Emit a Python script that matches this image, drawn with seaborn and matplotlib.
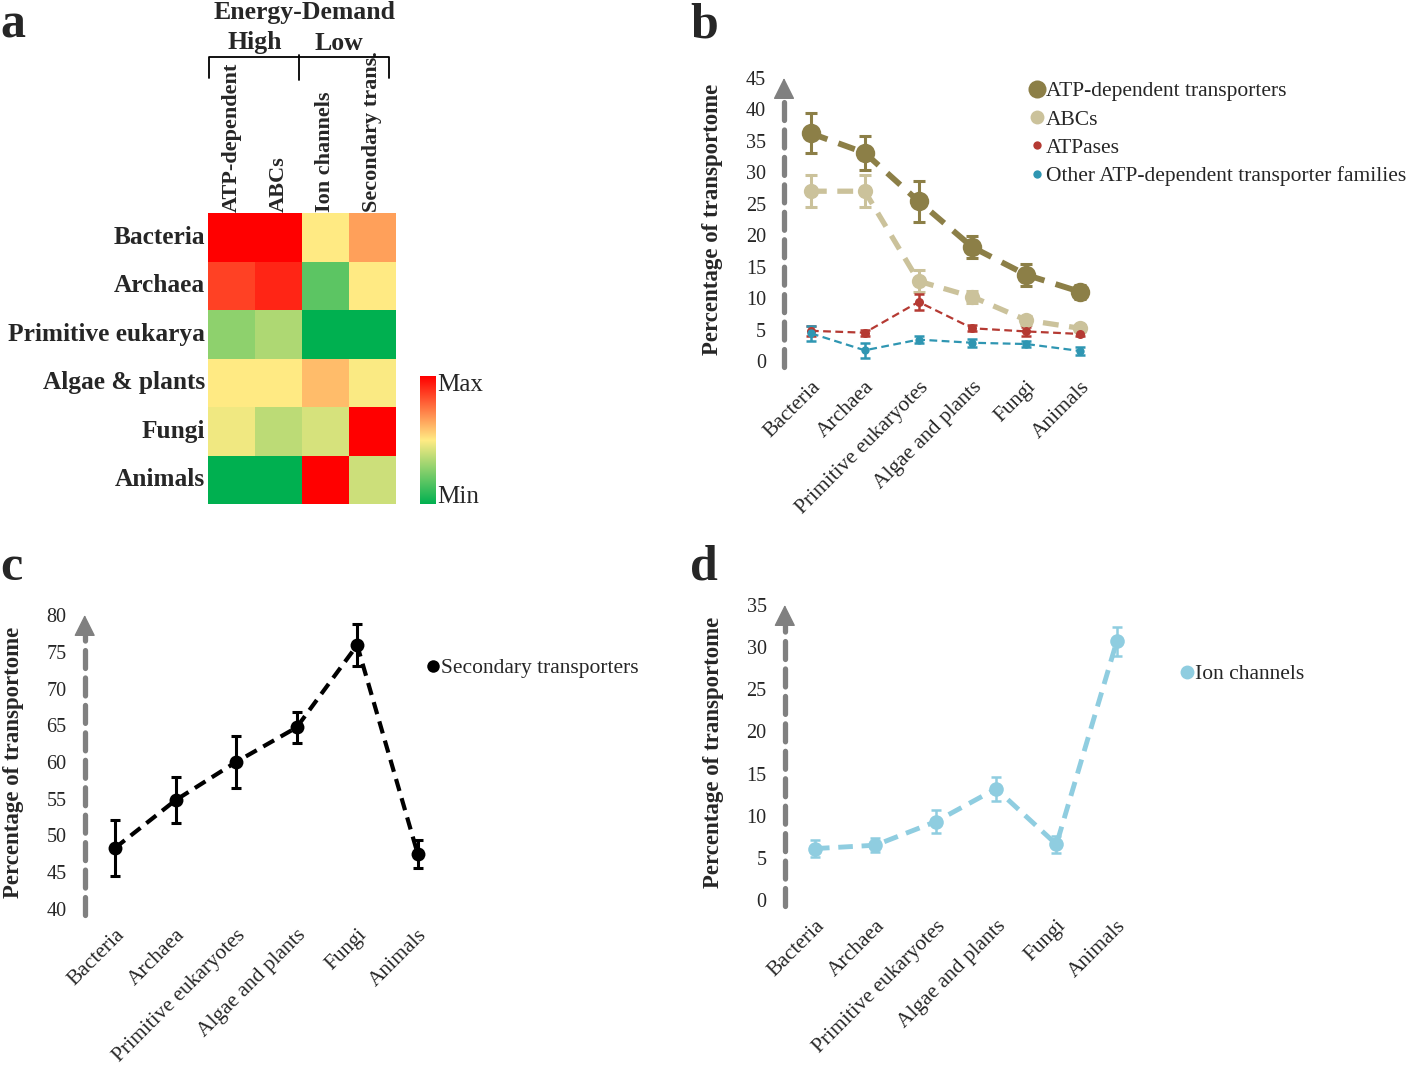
import numpy as np
import pandas as pd
import matplotlib
matplotlib.use('Agg')
import matplotlib.pyplot as plt
from matplotlib.colors import LinearSegmentedColormap
from matplotlib.lines import Line2D
import seaborn as sns

# ── Data ──
groups = ['Bacteria', 'Archaea', 'Primitive eukaryotes', 'Algae and plants', 'Fungi', 'Animals']

# panel a (relative level, 0 = min, 1 = max)
heat_rows = ['Bacteria', 'Archaea', 'Primitive eukarya', 'Algae & plants', 'Fungi', 'Animals']
heat_cols = ['ATP-dependent', 'ABCs', 'Ion channels', 'Secondary trans.']
heat_atp = [1.0, 0.86, 0.28, 0.5, 0.47, 0.0]
heat_abc = [1.0, 0.92, 0.34, 0.5, 0.37, 0.0]
heat_ion = [0.5, 0.18, 0.0, 0.6, 0.42, 1.0]
heat_sec = [0.66, 0.5, 0.0, 0.49, 1.0, 0.4]

# panel b
atp_mean = [36.2, 33.1, 25.4, 18.1, 13.7, 11.0]
atp_err = [3.2, 2.7, 3.3, 1.8, 1.7, 1.1]
abc_mean = [27.0, 27.0, 12.7, 10.2, 6.5, 5.2]
abc_err = [2.5, 2.5, 1.7, 1.0, 0.7, 0.5]
atpase_mean = [4.8, 4.5, 9.4, 5.2, 4.7, 4.3]
atpase_err = [0.8, 0.5, 1.3, 0.5, 0.7, 0.4]
other_mean = [4.4, 1.7, 3.4, 2.9, 2.7, 1.6]
other_err = [1.2, 1.2, 0.5, 0.6, 0.5, 0.6]

# panel c
sec_mean = [48.3, 54.8, 60.0, 64.7, 75.9, 47.5]
sec_err = [3.8, 3.1, 3.5, 2.1, 2.9, 1.9]

# panel d
ion_mean = [6.1, 6.5, 9.3, 13.2, 6.6, 30.7]
ion_err = [1.0, 0.8, 1.4, 1.45, 1.0, 1.7]

# ── Style ──
sns.set_theme(style="white")
plt.rcParams.update({
    'font.family': 'Liberation Serif',
    'axes.unicode_minus': False,
})

W, H = 1418, 1065
fig = plt.figure(figsize=(W / 100, H / 100), dpi=100)


def fbox(x0, y0, x1, y1):
    """pixel box -> figure fraction rect"""
    return [x0 / W, 1 - y1 / H, (x1 - x0) / W, (y1 - y0) / H]


def fx(x):
    return x / W


def fy(y):
    return 1 - y / H


ARROW_GREY = '#808080'


def y_arrow(ax):
    lo, hi = ax.get_ylim()
    span = hi - lo
    tr = ax.get_yaxis_transform()
    ax.plot([0, 0], [lo - 0.02 * span, hi - 0.05 * span], transform=tr, color=ARROW_GREY,
            lw=3.8, ls=(0, (3.4, 1.8)), dash_capstyle='round', clip_on=False, zorder=1)
    ax.annotate('', xy=(0, hi), xycoords=tr, xytext=(0, hi - 0.055 * span), textcoords=tr,
                arrowprops=dict(arrowstyle='-|>,head_width=0.45,head_length=0.9',
                                color=ARROW_GREY, lw=1, mutation_scale=15,
                                shrinkA=0, shrinkB=0), annotation_clip=False)


def draw_series(ax, mean, err, color, lw, ms, elw, cap, dash):
    x = np.arange(len(groups))
    ax.errorbar(x, mean, yerr=err, fmt='none', ecolor=color, elinewidth=elw,
                capsize=cap, capthick=elw, zorder=2)
    sns.lineplot(x=x, y=mean, ax=ax, color=color, lw=lw, linestyle=dash,
                 marker='o', markersize=ms, markeredgewidth=0, zorder=3)


def style_line_axes(ax, ylim, yticks, label_x):
    ax.set_xlim(-0.5, 5.5)
    ax.set_ylim(*ylim)
    ax.set_yticks(yticks)
    ax.set_yticklabels([str(t) for t in yticks], fontsize=14.5)
    ax.set_xticks(np.arange(len(groups)))
    ax.set_xticklabels(groups, rotation=45, ha='right', rotation_mode='anchor', fontsize=15.5)
    ax.tick_params(axis='y', length=0, pad=13)
    ax.tick_params(axis='x', length=0, pad=12)
    for s in ax.spines.values():
        s.set_visible(False)
    ax.set_xlabel('')
    ax.set_ylabel('Percentage of transportome', fontsize=16.5, fontweight='bold')
    ax.yaxis.set_label_coords(label_x, 0.5)
    ax.grid(False)
    y_arrow(ax)


# ── Panel a : heatmap ──
axa = fig.add_axes(fbox(208, 213, 396, 504))
cax = fig.add_axes(fbox(420, 376, 436, 504))
heat_df = pd.DataFrame({heat_cols[0]: heat_atp, heat_cols[1]: heat_abc,
                        heat_cols[2]: heat_ion, heat_cols[3]: heat_sec}, index=heat_rows)
cmap = LinearSegmentedColormap.from_list('gyr', ['#00B050', '#FFEB84', '#FF0000'])
sns.heatmap(heat_df, cmap=cmap, vmin=0, vmax=1, ax=axa, cbar_ax=cax,
            xticklabels=heat_cols, yticklabels=heat_rows, linewidths=0)
axa.xaxis.tick_top()
axa.set_xticklabels(heat_cols, rotation=90, fontsize=16, fontweight='bold', va='bottom')
axa.set_yticklabels(heat_rows, rotation=0, fontsize=18.3, fontweight='bold')
axa.tick_params(axis='both', length=0)
axa.tick_params(axis='x', pad=1)
axa.tick_params(axis='y', pad=2)
cbar = axa.collections[0].colorbar
cbar.outline.set_visible(False)
cbar.set_ticks([])
fig.text(fx(437), fy(385), 'Max', fontsize=18, va='center', ha='left')
fig.text(fx(437), fy(497), 'Min', fontsize=18, va='center', ha='left')

# bracket and header
fig.add_artist(Line2D([fx(209), fx(209), fx(389), fx(389)], [fy(78), fy(57), fy(57), fy(78)],
                      color='black', lw=1.3))
fig.add_artist(Line2D([fx(299), fx(299)], [fy(55), fy(80)], color='black', lw=1.3))
fig.text(fx(305), fy(12), 'Energy-Demand', fontsize=18.5, fontweight='bold', ha='center', va='center')
fig.text(fx(255), fy(43), 'High', fontsize=18.5, fontweight='bold', ha='center', va='center')
fig.text(fx(339), fy(43), 'Low', fontsize=18.5, fontweight='bold', ha='center', va='center')

# ── Panel b ──
axb = fig.add_axes(fbox(784, 78, 1107, 361))
olive, khaki, red, teal = '#8C7F47', '#CBC29B', '#B53A33', '#2F96B2'
draw_series(axb, atp_mean, atp_err, olive, lw=4.2, ms=14, elw=2.2, cap=4.3, dash=(0, (3, 2)))
draw_series(axb, abc_mean, abc_err, khaki, lw=3.8, ms=11, elw=2.2, cap=4.3, dash=(0, (3, 2)))
draw_series(axb, atpase_mean, atpase_err, red, lw=1.6, ms=6.5, elw=1.8, cap=3.5, dash=(0, (3.5, 2)))
draw_series(axb, other_mean, other_err, teal, lw=1.6, ms=6, elw=1.8, cap=3.5, dash=(0, (3.5, 2)))
style_line_axes(axb, (0, 45), list(range(0, 46, 5)), -0.19)
hb = [Line2D([], [], ls='none', marker='o', color=c, markersize=m, markeredgewidth=0)
      for c, m in [(olive, 13), (khaki, 10), (red, 6), (teal, 6)]]
axb.legend(hb, ['ATP-dependent transporters', 'ABCs', 'ATPases',
                'Other ATP-dependent transporter families'],
           loc='upper left', bbox_to_anchor=(fx(1031), fy(81)), bbox_transform=fig.transFigure,
           frameon=False, fontsize=15.5, handlelength=0.6, handletextpad=0.1,
           labelspacing=0.39, borderpad=0, borderaxespad=0)

# ── Panel c ──
axc = fig.add_axes(fbox(84.7, 615, 448, 909))
draw_series(axc, sec_mean, sec_err, 'black', lw=3, ms=10, elw=2.2, cap=3.8, dash=(0, (3, 1.8)))
style_line_axes(axc, (40, 80), list(range(40, 81, 5)), -0.167)
hc = [Line2D([], [], ls='none', marker='o', color='black', markersize=9, markeredgewidth=0)]
axc.legend(hc, ['Secondary transporters'], loc='upper left',
           bbox_to_anchor=(fx(427), fy(658)), bbox_transform=fig.transFigure,
           frameon=False, fontsize=15.5, handlelength=0.6, handletextpad=0.05,
           borderpad=0, borderaxespad=0)

# ── Panel d ──
axd = fig.add_axes(fbox(784.8, 605, 1147, 900))
lightblue = '#8FCDE0'
draw_series(axd, ion_mean, ion_err, lightblue, lw=3.5, ms=10.5, elw=1.8, cap=3.8, dash=(0, (3, 1.8)))
style_line_axes(axd, (0, 35), list(range(0, 36, 5)), -0.168)
hd = [Line2D([], [], ls='none', marker='o', color=lightblue, markersize=10, markeredgewidth=0)]
axd.legend(hd, ['Ion channels'], loc='upper left',
           bbox_to_anchor=(fx(1181), fy(664)), bbox_transform=fig.transFigure,
           frameon=False, fontsize=15.5, handlelength=0.6, handletextpad=0.05,
           borderpad=0, borderaxespad=0)

# ── Panel letters ──
for letter, x, y in [('a', 0, 25), ('b', 690, 25), ('c', 0, 568), ('d', 690, 568)]:
    fig.text(fx(x), fy(y), letter, fontsize=36, fontweight='bold', ha='left', va='center')

fig.savefig('out.png', dpi=100)
plt.close(fig)
